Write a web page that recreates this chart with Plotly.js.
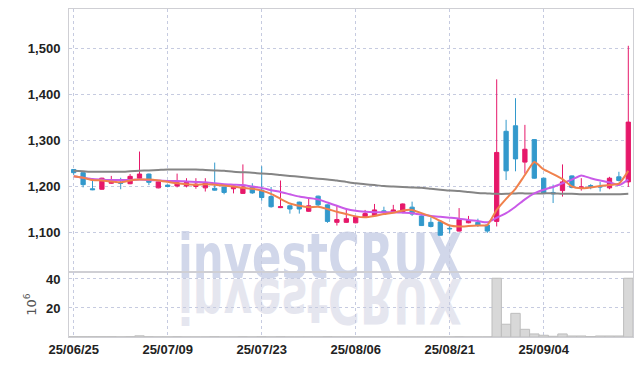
<!DOCTYPE html>
<html>
<head>
<meta charset="utf-8">
<script src="https://cdn.plot.ly/plotly-3.0.1.min.js"></script>
<style>
html,body{margin:0;padding:0;background:#fff;}
#wrap{position:relative;width:643px;height:366px;}
#wm{position:absolute;left:0;top:0;z-index:0;}
#chart{position:absolute;left:0;top:0;z-index:1;width:643px;height:366px;}
</style>
</head>
<body>
<div id="wrap">
<svg id="wm" width="643" height="366" xmlns="http://www.w3.org/2000/svg">
  <text x="178" y="278" font-family="DejaVu Sans, sans-serif" font-weight="bold" font-size="62" fill="#d1d7ea" textLength="284" lengthAdjust="spacingAndGlyphs">investCRUX</text>
  <g transform="translate(0,557) scale(1,-1)">
    <text x="178" y="278" font-family="DejaVu Sans, sans-serif" font-weight="bold" font-size="62" fill="#e5e6ef" textLength="284" lengthAdjust="spacingAndGlyphs">investCRUX</text>
  </g>
</svg>
<div id="chart"></div>
</div>
<script>
const dates = ["25/06/25","25/06/26","25/06/27","25/06/30","25/07/01","25/07/02","25/07/03","25/07/04","25/07/07","25/07/08",
"25/07/09","25/07/10","25/07/11","25/07/14","25/07/15","25/07/16","25/07/17","25/07/18","25/07/21","25/07/22",
"25/07/23","25/07/24","25/07/25","25/07/28","25/07/29","25/07/30","25/07/31","25/08/01","25/08/04","25/08/05",
"25/08/06","25/08/07","25/08/08","25/08/11","25/08/12","25/08/13","25/08/14","25/08/18","25/08/19","25/08/20",
"25/08/21","25/08/22","25/08/25","25/08/26","25/08/27","25/08/28","25/08/29","25/09/01","25/09/02","25/09/03",
"25/09/04","25/09/05","25/09/08","25/09/09","25/09/10","25/09/11","25/09/12","25/09/15","25/09/16","25/09/17"];

const openP = [1236,1229,1194,1193,1206,1208,1205,1217,1226,1196,
1202,1200,1200,1199,1196,1195,1198,1194,1184,1199,
1191,1177,1153,1157,1165,1145,1178,1159,1121,1121,
1120,1132,1136,1146,1143,1143,1154,1135,1121,1122,
1108,1102,1120,1121,1115,1123,1319,1331,1252,1301,
1217,1186,1190,1222,1196,1201,1199,1196,1220,1209];
const highP = [1237,1230,1211,1218,1222,1218,1226,1275,1227,1210,
1203,1227,1217,1217,1217,1251,1199,1201,1247,1206,
1243,1198,1212,1158,1166,1175,1179,1160,1157,1152,
1135,1148,1161,1155,1159,1162,1166,1136,1132,1123,
1116,1152,1135,1129,1116,1432,1344,1391,1333,1302,
1218,1203,1247,1223,1217,1204,1209,1220,1231,1505];
const lowP = [1224,1197,1191,1192,1205,1193,1204,1215,1202,1195,
1197,1197,1197,1194,1188,1190,1182,1184,1183,1183,
1168,1153,1152,1140,1140,1144,1155,1120,1114,1120,
1119,1131,1135,1139,1142,1142,1135,1113,1110,1092,
1097,1101,1119,1111,1098,1112,1213,1232,1227,1216,
1183,1163,1177,1195,1190,1193,1188,1193,1210,1198];
const closeP = [1229,1203,1192,1217,1213,1206,1221,1226,1208,1209,
1199,1207,1208,1204,1207,1191,1186,1200,1198,1185,
1175,1155,1155,1150,1150,1157,1159,1123,1127,1129,
1133,1140,1148,1143,1148,1161,1139,1114,1112,1093,
1107,1127,1125,1115,1102,1273,1233,1259,1280,1217,
1184,1183,1209,1197,1198,1199,1198,1217,1212,1339];

const ma5 = [1221,1218,1213,1212,1210,1208,1212,1214,1214,1212,
1209,1206,1204,1203,1204,1203,1201,1199,1196,1194,
1190,1183,1172,1162,1157,1154,1155,1150,1144,1139,
1134,1132,1135,1139,1142,1147,1148,1141,1134,1124,
1114,1112,1113,1114,1115,1148,1172,1194,1224,1252,
1236,1226,1215,1199,1195,1197,1200,1202,1205,1233];
const ma10 = [1221,1218,1215,1214,1213,1213,1213,1214,1213,1212,
1211,1211,1210,1209,1208,1206,1204,1203,1202,1199,
1196,1191,1187,1182,1177,1174,1171,1164,1157,1150,
1146,1144,1143,1143,1143,1142,1141,1138,1135,1133,
1131,1129,1126,1124,1121,1131,1141,1155,1171,1184,
1192,1198,1206,1214,1223,1217,1212,1208,1202,1214];
const maLong = [1233,1232,1231,1231,1231,1231,1232,1233,1234,1235,
1236,1236,1236,1236,1235,1234,1233,1231,1230,1229,
1227,1226,1224,1222,1220,1218,1216,1214,1212,1209,
1206,1204,1202,1200,1199,1198,1197,1196,1194,1192,
1190,1189,1187,1185,1184,1183,1183,1184,1184,1184,
1184,1184,1183,1183,1182,1182,1182,1182,1182,1183];

const volume = [0.2,0.2,0.2,0.2,0.2,0.1,0.2,0.8,0.2,0.1,
0.1,0.2,0.1,0.1,0.1,0.2,0.1,0.1,0.2,0.1,
0.2,0.1,0.2,0.1,0.1,0.1,0.1,0.2,0.1,0.1,
0.1,0.1,0.1,0.1,0.1,0.1,0.1,0.1,0.1,0.1,
0.1,0.2,0.1,0.1,0.1,40.5,8.8,16.3,5.3,2.1,
1.2,0.5,2.1,0.7,0.7,0.3,0.7,0.7,0.7,40.5];

const priceTicks = [1100,1200,1300,1400,1500];
const volTicks = [20,40];
const xTickIdx = [0,10,20,30,40,50];

const tickFont = {family:"Liberation Sans, Arial, sans-serif", size:13, color:"#222", weight:"bold"};
const gridC = "#c6cbe0";
const lineC = "#cfcfd4";

const traces = [
  {type:"candlestick", x:dates, open:openP, high:highP, low:lowP, close:closeP,
   xaxis:"x", yaxis:"y", hoverinfo:"skip",
   increasing:{line:{color:"#e6186a", width:1}, fillcolor:"#e6186a"},
   decreasing:{line:{color:"#3399cc", width:1}, fillcolor:"#3399cc"},
   whiskerwidth:0},
  {type:"scatter", mode:"lines", x:dates, y:maLong, xaxis:"x", yaxis:"y", hoverinfo:"skip",
   line:{color:"#858585", width:2, shape:"spline", smoothing:0.6}},
  {type:"scatter", mode:"lines", x:dates, y:ma10, xaxis:"x", yaxis:"y", hoverinfo:"skip",
   line:{color:"#c95ae8", width:2, shape:"spline", smoothing:0.5}},
  {type:"scatter", mode:"lines", x:dates, y:ma5, xaxis:"x", yaxis:"y", hoverinfo:"skip",
   line:{color:"#f0814c", width:2, shape:"spline", smoothing:0.5}},
  {type:"bar", x:dates, y:volume, xaxis:"x", yaxis:"y2", hoverinfo:"skip",
   marker:{color:"#d8d8d8", line:{color:"#bdbdbd", width:1}}}
];

const layout = {
  width:643, height:366,
  margin:{l:69, r:10, t:9, b:29, pad:0},
  paper_bgcolor:"rgba(0,0,0,0)", plot_bgcolor:"rgba(0,0,0,0)",
  showlegend:false, bargap:0, boxgap:0.35,
  xaxis:{type:"category", range:[-0.5,59.5], anchor:"y2",
    tickvals:xTickIdx.map(i=>dates[i]), ticktext:xTickIdx.map(i=>dates[i]),
    showgrid:true, gridcolor:gridC, griddash:"dot", gridwidth:1,
    showline:true, linecolor:lineC, linewidth:1, mirror:"all",
    ticks:"", ticklabelstandoff:0, tickfont:tickFont, zeroline:false,
    rangeslider:{visible:false}, fixedrange:true},
  yaxis:{domain:[0.19817,1], range:[1013,1585],
    tickvals:priceTicks, tickformat:",d",
    showgrid:true, gridcolor:gridC, griddash:"dot", gridwidth:1,
    showline:true, linecolor:lineC, linewidth:1, mirror:true,
    ticks:"", ticklabelstandoff:5, tickfont:tickFont, zeroline:false, fixedrange:true},
  yaxis2:{domain:[0,0.19817], range:[0,44.8],
    tickvals:volTicks,
    showgrid:true, gridcolor:gridC, griddash:"dot", gridwidth:1,
    showline:true, linecolor:lineC, linewidth:1, mirror:true,
    ticks:"", ticklabelstandoff:5, tickfont:tickFont, zeroline:false, fixedrange:true,
    title:{text:"10<sup>6</sup>", font:{family:"DejaVu Sans, sans-serif", size:13, color:"#555"}, standoff:6}}
};

Plotly.newPlot("chart", traces, layout, {displayModeBar:false, staticPlot:true});
</script>
</body>
</html>
